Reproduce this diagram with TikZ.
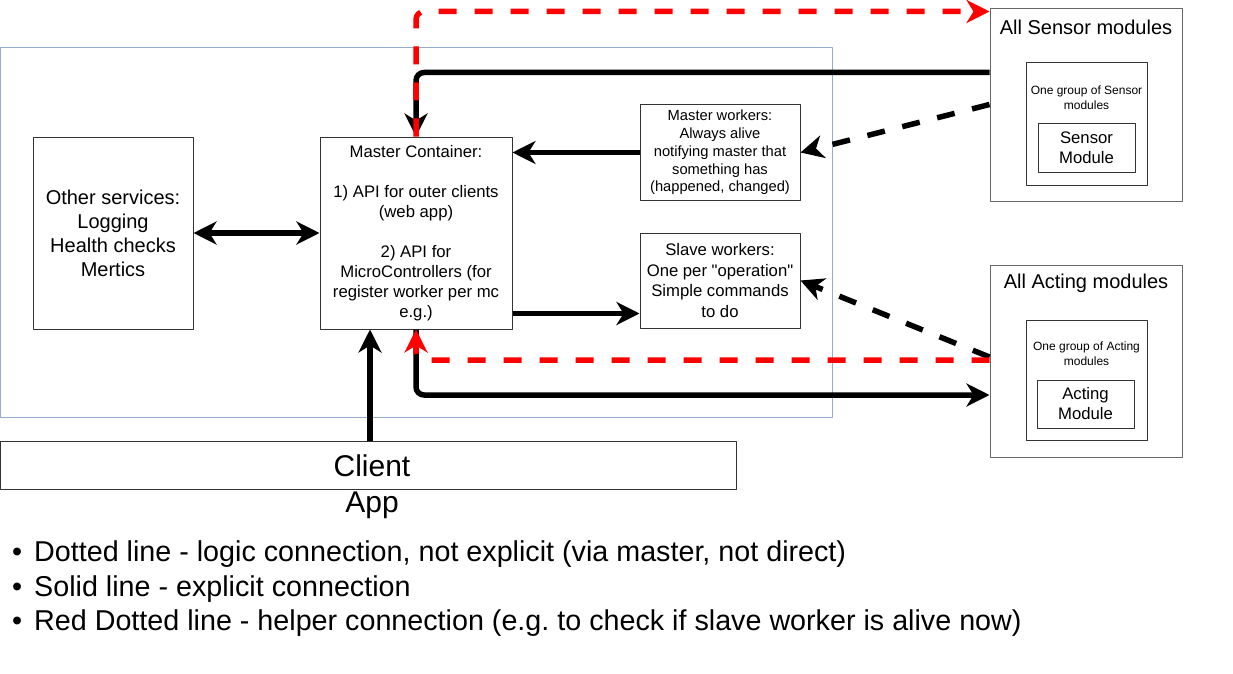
\documentclass[tikz,border=0pt]{standalone}
\usepackage{fontspec}
\setmainfont{Liberation Sans}[Ligatures=TeXOff]
\usetikzlibrary{arrows.meta}
\definecolor{contblue}{RGB}{150,172,206}
\frenchspacing

\begin{document}
\begin{tikzpicture}[x=1pt,y=-1pt,line join=round,>={Stealth[length=23pt,width=23pt,inset=7pt]},
		box/.style={draw=black!80,line width=1pt,inner sep=2pt,align=center},
		conn/.style={line width=5.5pt,black},
		dconn/.style={conn,dash pattern=on 18pt off 18pt},
		rconn/.style={conn,red,dash pattern=on 18pt off 18pt},
		fbig/.style={font=\fontsize{30}{36}\selectfont,align=center},
		fleg/.style={font=\fontsize{28.7}{35}\selectfont,anchor=west,inner sep=0pt},
		fxx/.style={font=\fontsize{20}{24}\selectfont},
		fx/.style={font=\fontsize{16.7}{20}\selectfont},
		fs/.style={font=\fontsize{14.7}{17.7}\selectfont},
		ft/.style={font=\fontsize{12}{15}\selectfont,align=center}]
		\useasboundingbox (0,0) rectangle (1233,674);
		% outer container
		\node[draw=contblue,line width=1pt,minimum width=832pt,minimum height=369pt,inner sep=0pt] (cont) at (416.5,232.5) {};
		% services
		\node[box,fxx,minimum width=160pt,minimum height=192pt] (other) at (113,233) {Other services:\\Logging\\Health checks\\Mertics};
		\node[box,fx,minimum width=192pt,minimum height=192pt] (master) at (416,233) {Master Container:\\~\\1) API for outer clients\\(web app)\\~\\2) API for\\MicroControllers (for\\register worker per mc\\e.g.)};
		\node[box,fs,minimum width=160pt,minimum height=95pt] (mworkers) at (720,152.5) {Master workers:\\Always alive\\notifying master that\\something has\\(happened, changed)};
		\node[box,font=\fontsize{16.7}{20.5}\selectfont,minimum width=160pt,minimum height=95pt] (sworkers) at (720,280.5) {Slave workers:\\One per "operation"\\Simple commands\\to do};
		% modules
		\node[box,draw=black!60,minimum width=192pt,minimum height=192pt] (allsensor) at (1086,105) {};
		\node[fxx] (sensortitle) at ([yshift=-19pt]allsensor.north) {All Sensor modules};
		\node[box,minimum width=121pt,minimum height=122pt] (sgroup) at (1086.5,124) {};
		\node[ft] (sgrouptxt) at ([yshift=-35pt]sgroup.north) {One group of Sensor\\modules};
		\node[box,fx,minimum width=97pt,minimum height=48pt] (smodule) at (1086.5,148) {Sensor\\Module};
		\node[box,draw=black!60,minimum width=192pt,minimum height=192pt] (allacting) at (1086,361) {};
		\node[fxx] (actingtitle) at ([yshift=-19pt]allacting.north) {All Acting modules};
		\node[box,minimum width=121pt,minimum height=120pt] (agroup) at (1086.5,380) {};
		\node[ft] (agrouptxt) at ([yshift=-34.5pt]agroup.north) {One group of Acting\\modules};
		\node[box,fx,minimum width=97pt,minimum height=48pt] (amodule) at (1085.5,404) {Acting\\Module};
		% client
		\node[box,minimum width=736pt,minimum height=48pt] (client) at (368.5,465) {};
		\node[fbig] (clienttxt) at (372,487) {Client\\App};
		\coordinate (cin) at ([xshift=-46pt]master.south);
		% connectors
		\draw[conn,<->] (other) -- (master);
		\draw[conn,->] (mworkers.west) -- (mworkers.west -| master.east);
		\draw[conn,->] ([yshift=16pt]master.south east) -- ([yshift=16pt]master.south east -| sworkers.west);
		\draw[conn,->,rounded corners=8pt] ([yshift=-64pt]allsensor.north west) -| (master.north);
		\draw[conn,->,rounded corners=8pt] (master.south) |- ([yshift=-34pt]allacting.west);
		\draw[conn,->] (cin |- client.north) -- (cin);
		\draw[dconn,->] ([yshift=-96pt]allsensor.north west) -- (mworkers.east);
		\draw[dconn,->] ([yshift=4pt]allacting.west) -- (sworkers.east);
		\draw[rconn,->,rounded corners=8pt] (master.north) |- ([yshift=-3pt]allsensor.north west);
		\draw[rconn,->,rounded corners=8pt] ([yshift=1pt]allacting.west) -| (master.south);
		% legend
		\node[fleg] (leg1) at (12,554) {\makebox[22pt][l]{\textbullet}Dotted line - logic connection, not explicit (via master, not direct)};
		\node[fleg] (leg2) at (12,589) {\makebox[22pt][l]{\textbullet}Solid line - explicit connection};
		\node[fleg] (leg3) at (12,623) {\makebox[22pt][l]{\textbullet}Red Dotted line - helper connection (e.g. to check if slave worker is alive now)};
\end{tikzpicture}
\end{document}
